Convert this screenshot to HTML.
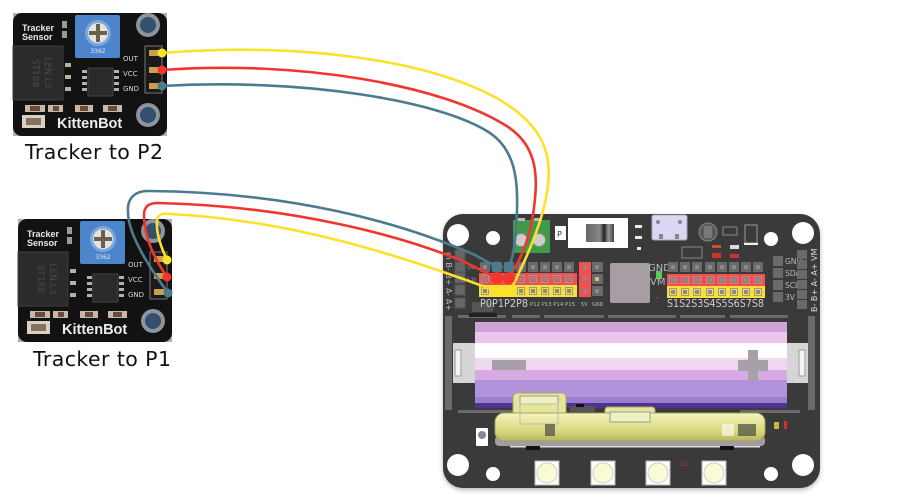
<!DOCTYPE html>
<html><head><meta charset="utf-8"><style>
html,body{margin:0;padding:0;background:#fff;}
svg{display:block;}
</style></head><body>
<svg width="915" height="502" viewBox="0 0 915 502" xmlns="http://www.w3.org/2000/svg" font-family="'DejaVu Sans','Liberation Sans',sans-serif">
<defs>
<filter id="sh" x="-10%" y="-10%" width="120%" height="120%"><feGaussianBlur stdDeviation="2.5"/></filter>
<linearGradient id="mb" x1="0" y1="0" x2="0" y2="1">
<stop offset="0" stop-color="#f4f4c0"/><stop offset="0.35" stop-color="#e6e69a"/><stop offset="0.7" stop-color="#d4d47a"/><stop offset="1" stop-color="#b4b460"/></linearGradient>
<linearGradient id="sw" x1="0" y1="0" x2="1" y2="0">
<stop offset="0" stop-color="#666"/><stop offset="0.5" stop-color="#888"/><stop offset="0.65" stop-color="#222"/><stop offset="0.8" stop-color="#999"/><stop offset="1" stop-color="#444"/></linearGradient>
</defs>

<!-- ===== Top sensor ===== -->
<g transform="translate(13,13)">
<rect x="0" y="0" width="154" height="123" fill="#a9b2bb"/>
<rect x="0" y="0" width="154" height="123" rx="9" fill="#121212"/>
<rect x="0" y="33" width="50" height="54" fill="#2b2b2b" stroke="#3d3d3d"/>
<text transform="translate(20,60) rotate(90)" font-size="9" fill="#4a4a4a" text-anchor="middle">ST188</text>
<text transform="translate(32,60) rotate(90)" font-size="9" fill="#4a4a4a" text-anchor="middle">LEN.L3</text>
<text x="9" y="18" font-family="'Liberation Sans',sans-serif" font-weight="bold" font-size="9" fill="#e8e8e8">Tracker</text>
<text x="9" y="27" font-family="'Liberation Sans',sans-serif" font-weight="bold" font-size="9" fill="#e8e8e8">Sensor</text>
<rect x="49" y="8" width="5" height="7" fill="#9a9a9a"/><rect x="49" y="18" width="5" height="7" fill="#9a9a9a"/>
<rect x="62" y="2" width="45" height="43" rx="2" fill="#4d85cc"/>
<circle cx="85" cy="20" r="13" fill="#7aa8e0"/>
<circle cx="85" cy="20" r="10" fill="#e8e4dc"/>
<rect x="83" y="11" width="4" height="18" fill="#6a6050"/><rect x="76" y="18" width="18" height="4" fill="#6a6050"/>
<text x="85" y="40" font-size="6" fill="#e0e8f8" text-anchor="middle">3362</text>
<rect x="75" y="55" width="25" height="28" fill="#2a2a2a" stroke="#444"/>
<g fill="#b8b0a0"><rect x="69" y="57" width="5" height="3"/><rect x="69" y="63" width="5" height="3"/><rect x="69" y="69" width="5" height="3"/><rect x="69" y="75" width="5" height="3"/>
<rect x="101" y="57" width="5" height="3"/><rect x="101" y="63" width="5" height="3"/><rect x="101" y="69" width="5" height="3"/><rect x="101" y="75" width="5" height="3"/>
<rect x="52" y="50" width="6" height="4"/><rect x="52" y="62" width="6" height="4"/><rect x="52" y="74" width="6" height="4"/></g>
<text x="110" y="48" font-size="7" fill="#d8d8d8">OUT</text>
<text x="110" y="63" font-size="7" fill="#d8d8d8">VCC</text>
<text x="110" y="78" font-size="7" fill="#d8d8d8">GND</text>
<rect x="132" y="33" width="17" height="47" fill="#1a1a1a" stroke="#777" stroke-width="1"/>
<rect x="136" y="37" width="10" height="6" fill="#c8a050"/><rect x="136" y="54" width="10" height="6" fill="#c8a050"/><rect x="136" y="70" width="10" height="6" fill="#c8a050"/>
<circle cx="135" cy="12" r="12" fill="#8d949c"/><circle cx="135" cy="12" r="8" fill="#34506e"/>
<circle cx="135" cy="102" r="12" fill="#8d949c"/><circle cx="135" cy="102" r="8" fill="#34506e"/>
<g fill="#c8b8a8"><rect x="12" y="92" width="20" height="7"/><rect x="35" y="92" width="15" height="7"/><rect x="62" y="92" width="18" height="7"/><rect x="90" y="92" width="19" height="7"/></g>
<g fill="#6a4a3a"><rect x="17" y="93" width="10" height="5"/><rect x="40" y="93" width="6" height="5"/><rect x="67" y="93" width="8" height="5"/><rect x="95" y="93" width="9" height="5"/></g>
<rect x="9" y="102" width="23" height="13" fill="#d8d0c0"/><rect x="13" y="105" width="15" height="7" fill="#8a7060"/>
<text x="44" y="115" font-family="'Liberation Sans',sans-serif" font-weight="bold" font-size="14.5" fill="#eeeeee">KittenBot</text>
</g>
<text x="25" y="159" font-size="20.5" fill="#111" textLength="138">Tracker to P2</text>

<!-- ===== Lower sensor ===== -->
<g transform="translate(18,219)">
<rect x="0" y="0" width="154" height="123" fill="#a9b2bb"/>
<rect x="0" y="0" width="154" height="123" rx="9" fill="#121212"/>
<rect x="0" y="33" width="50" height="54" fill="#2b2b2b" stroke="#3d3d3d"/>
<text transform="translate(20,60) rotate(90)" font-size="9" fill="#4a4a4a" text-anchor="middle">ST188</text>
<text transform="translate(32,60) rotate(90)" font-size="9" fill="#4a4a4a" text-anchor="middle">LEN.L3</text>
<text x="9" y="18" font-family="'Liberation Sans',sans-serif" font-weight="bold" font-size="9" fill="#e8e8e8">Tracker</text>
<text x="9" y="27" font-family="'Liberation Sans',sans-serif" font-weight="bold" font-size="9" fill="#e8e8e8">Sensor</text>
<rect x="49" y="8" width="5" height="7" fill="#9a9a9a"/><rect x="49" y="18" width="5" height="7" fill="#9a9a9a"/>
<rect x="62" y="2" width="45" height="43" rx="2" fill="#4d85cc"/>
<circle cx="85" cy="20" r="13" fill="#7aa8e0"/>
<circle cx="85" cy="20" r="10" fill="#e8e4dc"/>
<rect x="83" y="11" width="4" height="18" fill="#6a6050"/><rect x="76" y="18" width="18" height="4" fill="#6a6050"/>
<text x="85" y="40" font-size="6" fill="#e0e8f8" text-anchor="middle">3362</text>
<rect x="75" y="55" width="25" height="28" fill="#2a2a2a" stroke="#444"/>
<g fill="#b8b0a0"><rect x="69" y="57" width="5" height="3"/><rect x="69" y="63" width="5" height="3"/><rect x="69" y="69" width="5" height="3"/><rect x="69" y="75" width="5" height="3"/>
<rect x="101" y="57" width="5" height="3"/><rect x="101" y="63" width="5" height="3"/><rect x="101" y="69" width="5" height="3"/><rect x="101" y="75" width="5" height="3"/>
<rect x="52" y="50" width="6" height="4"/><rect x="52" y="62" width="6" height="4"/><rect x="52" y="74" width="6" height="4"/></g>
<text x="110" y="48" font-size="7" fill="#d8d8d8">OUT</text>
<text x="110" y="63" font-size="7" fill="#d8d8d8">VCC</text>
<text x="110" y="78" font-size="7" fill="#d8d8d8">GND</text>
<rect x="132" y="33" width="17" height="47" fill="#1a1a1a" stroke="#777" stroke-width="1"/>
<rect x="136" y="37" width="10" height="6" fill="#c8a050"/><rect x="136" y="54" width="10" height="6" fill="#c8a050"/><rect x="136" y="70" width="10" height="6" fill="#c8a050"/>
<circle cx="135" cy="12" r="12" fill="#8d949c"/><circle cx="135" cy="12" r="8" fill="#34506e"/>
<circle cx="135" cy="102" r="12" fill="#8d949c"/><circle cx="135" cy="102" r="8" fill="#34506e"/>
<g fill="#c8b8a8"><rect x="12" y="92" width="20" height="7"/><rect x="35" y="92" width="15" height="7"/><rect x="62" y="92" width="18" height="7"/><rect x="90" y="92" width="19" height="7"/></g>
<g fill="#6a4a3a"><rect x="17" y="93" width="10" height="5"/><rect x="40" y="93" width="6" height="5"/><rect x="67" y="93" width="8" height="5"/><rect x="95" y="93" width="9" height="5"/></g>
<rect x="9" y="102" width="23" height="13" fill="#d8d0c0"/><rect x="13" y="105" width="15" height="7" fill="#8a7060"/>
<text x="44" y="115" font-family="'Liberation Sans',sans-serif" font-weight="bold" font-size="14.5" fill="#eeeeee">KittenBot</text>
</g>
<text x="33" y="366" font-size="20.5" fill="#111" textLength="138">Tracker to P1</text>

<!-- ===== Board ===== -->
<rect x="443" y="216" width="377" height="274" rx="20" fill="#999" filter="url(#sh)" opacity="0.7"/>
<rect x="443" y="214" width="377" height="274" rx="20" fill="#3a3a3a"/>

<!-- top-left holes -->
<circle cx="458" cy="235" r="11" fill="#fff"/>
<circle cx="493" cy="238" r="7" fill="#fff"/>
<!-- terminal block -->
<rect x="513" y="220" width="37" height="33" fill="#3f9a4a"/>
<rect x="517" y="218" width="8" height="3" fill="#bbb"/><rect x="534" y="218" width="8" height="3" fill="#bbb"/>
<circle cx="521" cy="240" r="6.5" fill="#ccc" stroke="#888"/><circle cx="539" cy="240" r="6.5" fill="#ccc" stroke="#888"/>
<rect x="555" y="226" width="11" height="14" fill="#fff"/><text x="557" y="237" font-size="8" fill="#333">P</text>
<!-- switch -->
<rect x="568" y="218" width="60" height="30" fill="#fff"/>
<rect x="586" y="224" width="28" height="18" fill="url(#sw)"/>
<rect x="635" y="225" width="7" height="3" fill="#eee"/><rect x="635" y="236" width="7" height="3" fill="#eee"/><rect x="637" y="247" width="4" height="3" fill="#eee"/>
<!-- usb -->
<rect x="652" y="215" width="35" height="25" rx="2" fill="#dcd6f4" stroke="#aaa"/>
<circle cx="658" cy="222" r="2" fill="#888"/><circle cx="680" cy="222" r="2" fill="#888"/>
<rect x="659" y="234" width="4" height="5" fill="#888"/><rect x="675" y="234" width="4" height="5" fill="#888"/>
<!-- misc top right comps -->
<circle cx="708" cy="232" r="9" fill="#5a5a5a" stroke="#888"/>
<rect x="704" y="226" width="8" height="12" fill="#777"/>
<rect x="723" y="227" width="14" height="8" fill="none" stroke="#888"/>
<rect x="745" y="225" width="12" height="18" fill="none" stroke="#999"/><rect x="744" y="243" width="14" height="2" fill="#eee"/>
<rect x="682" y="247" width="20" height="11" fill="none" stroke="#888"/>
<rect x="712" y="245" width="9" height="3" fill="#d05030"/><rect x="730" y="245" width="9" height="4" fill="#ddd"/>
<rect x="712" y="253" width="9" height="5" fill="#d03030"/><rect x="730" y="254" width="9" height="4" fill="#d03030"/>
<circle cx="771" cy="239" r="7" fill="#fff"/>
<circle cx="803" cy="233" r="11" fill="#fff"/>

<!-- left vertical pins -->
<g fill="#666" stroke="#555"><rect x="455" y="250" width="10" height="10"/><rect x="455" y="262" width="10" height="10"/><rect x="455" y="273" width="10" height="10"/><rect x="455" y="285" width="10" height="10"/><rect x="455" y="298" width="10" height="10"/></g>
<text transform="translate(446,252) rotate(90)" font-size="8" fill="#bbb">m B- B+ A- A+</text>
<text x="467" y="269" font-size="4" fill="#999">GND</text>
<text x="467" y="281" font-size="4" fill="#999">3.3V</text>
<rect x="472" y="302" width="21" height="10" fill="#555"/>

<!-- left header -->
<rect x="479" y="273" width="98" height="12" fill="#f25050"/>
<rect x="479" y="285" width="98" height="12" fill="#f8e038"/>
<g id="lh">
<rect x="480" y="262" width="10" height="10" fill="#6a6a6a"/><rect x="492" y="262" width="10" height="10" fill="#6a6a6a"/><rect x="504" y="262" width="10" height="10" fill="#6a6a6a"/><rect x="516" y="262" width="10" height="10" fill="#6a6a6a"/><rect x="528" y="262" width="10" height="10" fill="#6a6a6a"/><rect x="540" y="262" width="10" height="10" fill="#6a6a6a"/><rect x="552" y="262" width="10" height="10" fill="#6a6a6a"/><rect x="564" y="262" width="10" height="10" fill="#6a6a6a"/>
</g>
<g fill="#8a8a8a">
<rect x="483" y="265" width="4" height="4"/><rect x="495" y="265" width="4" height="4"/><rect x="507" y="265" width="4" height="4"/><rect x="519" y="265" width="4" height="4"/><rect x="531" y="265" width="4" height="4"/><rect x="543" y="265" width="4" height="4"/><rect x="555" y="265" width="4" height="4"/><rect x="567" y="265" width="4" height="4"/>
<rect x="483" y="277" width="4" height="4"/><rect x="495" y="277" width="4" height="4"/><rect x="507" y="277" width="4" height="4"/><rect x="519" y="277" width="4" height="4"/><rect x="531" y="277" width="4" height="4"/><rect x="543" y="277" width="4" height="4"/><rect x="555" y="277" width="4" height="4"/><rect x="567" y="277" width="4" height="4"/>
<rect x="483" y="289" width="4" height="4"/><rect x="519" y="289" width="4" height="4"/><rect x="531" y="289" width="4" height="4"/><rect x="543" y="289" width="4" height="4"/><rect x="555" y="289" width="4" height="4"/><rect x="567" y="289" width="4" height="4"/>
</g>
<g fill="none" stroke="#999" stroke-width="1">
<rect x="481.5" y="275.5" width="7" height="7"/><rect x="517.5" y="275.5" width="7" height="7"/><rect x="529.5" y="275.5" width="7" height="7"/><rect x="541.5" y="275.5" width="7" height="7"/><rect x="553.5" y="275.5" width="7" height="7"/><rect x="565.5" y="275.5" width="7" height="7"/>
<rect x="481.5" y="287.5" width="7" height="7"/><rect x="517.5" y="287.5" width="7" height="7"/><rect x="529.5" y="287.5" width="7" height="7"/><rect x="541.5" y="287.5" width="7" height="7"/><rect x="553.5" y="287.5" width="7" height="7"/><rect x="565.5" y="287.5" width="7" height="7"/>
</g>
<!-- 5V & GND cols -->
<rect x="579" y="262" width="12" height="35" fill="#f25050"/>
<g fill="#6a6a6a"><rect x="592" y="262" width="11" height="10"/><rect x="592" y="274" width="11" height="10"/><rect x="592" y="286" width="11" height="10"/></g>
<g fill="#8a8a8a"><rect x="583" y="265" width="4" height="4"/><rect x="583" y="277" width="4" height="4"/><rect x="583" y="289" width="4" height="4"/><rect x="595" y="265" width="4" height="4"/><rect x="595" y="289" width="4" height="4"/></g>
<rect x="595" y="277" width="4" height="4" fill="#c8c080"/>
<text x="480" y="307" font-size="10.5" fill="#cfcfcf" textLength="48" lengthAdjust="spacingAndGlyphs">P0P1P2P8</text>
<text x="530" y="306" font-size="5" fill="#bbb" textLength="45" lengthAdjust="spacingAndGlyphs">P12 P13 P14 P15</text>
<text x="581" y="306" font-size="5" fill="#bbb">5V</text>
<text x="592" y="306" font-size="5" fill="#bbb">GND</text>
<!-- chip square -->
<rect x="610" y="263" width="40" height="40" rx="2" fill="#a69ea4"/>
<text x="648" y="271" font-size="10" fill="#b8b8b8">GND</text>
<rect x="656" y="271" width="6" height="8" fill="#5ac85a"/>
<text x="650" y="285" font-size="10" fill="#b8b8b8">VM</text>
<text x="656" y="300" font-size="8" fill="#888">-</text>

<!-- right header -->
<rect x="667" y="274" width="98" height="12" fill="#f25050"/>
<rect x="667" y="286" width="98" height="12" fill="#f8e038"/>
<g fill="#6a6a6a">
<rect x="668" y="262" width="10" height="10"/><rect x="680" y="262" width="10" height="10"/><rect x="692" y="262" width="10" height="10"/><rect x="705" y="262" width="10" height="10"/><rect x="717" y="262" width="10" height="10"/><rect x="729" y="262" width="10" height="10"/><rect x="741" y="262" width="10" height="10"/><rect x="753" y="262" width="10" height="10"/>
</g>
<g fill="#8a8a8a">
<rect x="671" y="265" width="4" height="4"/><rect x="683" y="265" width="4" height="4"/><rect x="695" y="265" width="4" height="4"/><rect x="708" y="265" width="4" height="4"/><rect x="720" y="265" width="4" height="4"/><rect x="732" y="265" width="4" height="4"/><rect x="744" y="265" width="4" height="4"/><rect x="756" y="265" width="4" height="4"/>
<rect x="671" y="278" width="4" height="4"/><rect x="683" y="278" width="4" height="4"/><rect x="695" y="278" width="4" height="4"/><rect x="708" y="278" width="4" height="4"/><rect x="720" y="278" width="4" height="4"/><rect x="732" y="278" width="4" height="4"/><rect x="744" y="278" width="4" height="4"/><rect x="756" y="278" width="4" height="4"/>
<rect x="671" y="290" width="4" height="4"/><rect x="683" y="290" width="4" height="4"/><rect x="695" y="290" width="4" height="4"/><rect x="708" y="290" width="4" height="4"/><rect x="720" y="290" width="4" height="4"/><rect x="732" y="290" width="4" height="4"/><rect x="744" y="290" width="4" height="4"/><rect x="756" y="290" width="4" height="4"/>
</g>
<g fill="none" stroke="#999">
<rect x="669.5" y="276.5" width="7" height="7"/><rect x="681.5" y="276.5" width="7" height="7"/><rect x="693.5" y="276.5" width="7" height="7"/><rect x="706.5" y="276.5" width="7" height="7"/><rect x="718.5" y="276.5" width="7" height="7"/><rect x="730.5" y="276.5" width="7" height="7"/><rect x="742.5" y="276.5" width="7" height="7"/><rect x="754.5" y="276.5" width="7" height="7"/>
<rect x="669.5" y="288.5" width="7" height="7"/><rect x="681.5" y="288.5" width="7" height="7"/><rect x="693.5" y="288.5" width="7" height="7"/><rect x="706.5" y="288.5" width="7" height="7"/><rect x="718.5" y="288.5" width="7" height="7"/><rect x="730.5" y="288.5" width="7" height="7"/><rect x="742.5" y="288.5" width="7" height="7"/><rect x="754.5" y="288.5" width="7" height="7"/>
</g>
<text x="667" y="307" font-size="10.5" fill="#cfcfcf" textLength="97" lengthAdjust="spacingAndGlyphs">S1S2S3S4S5S6S7S8</text>

<!-- right side pins -->
<g fill="#6a6a6a"><rect x="773" y="256" width="10" height="10"/><rect x="773" y="268" width="10" height="10"/><rect x="773" y="280" width="10" height="10"/><rect x="773" y="292" width="10" height="10"/></g>
<text x="785" y="264" font-size="7.5" fill="#bbb">GND</text>
<text x="785" y="276" font-size="7.5" fill="#bbb">SDA</text>
<text x="785" y="288" font-size="7.5" fill="#bbb">SCL</text>
<text x="785" y="300" font-size="7.5" fill="#bbb">3V</text>
<g fill="#6a6a6a"><rect x="797" y="250" width="10" height="9"/><rect x="797" y="260" width="10" height="9"/><rect x="797" y="270" width="10" height="9"/><rect x="797" y="280" width="10" height="9"/><rect x="797" y="290" width="10" height="9"/><rect x="797" y="300" width="10" height="9"/></g>
<text transform="translate(817,312) rotate(-90)" font-size="8" fill="#ddd">B- B+ A- A+ VM</text>

<!-- battery holder rails -->
<g fill="#6a6a6a"><rect x="458" y="315" width="48" height="3"/><rect x="512" y="315" width="28" height="3"/><rect x="544" y="315" width="60" height="3"/><rect x="608" y="315" width="68" height="3"/><rect x="680" y="315" width="45" height="3"/><rect x="730" y="315" width="58" height="3"/>
<rect x="458" y="410" width="60" height="3"/><rect x="740" y="410" width="60" height="3"/>
<rect x="445" y="316" width="7" height="94"/><rect x="808" y="316" width="7" height="94"/></g>
<rect x="469" y="313" width="28" height="4" fill="#222"/>
<rect x="453" y="343" width="22" height="40" fill="#d6d6d6"/><rect x="455" y="350" width="6" height="26" fill="#f4f4f4" stroke="#999"/>
<rect x="787" y="343" width="21" height="40" fill="#d6d6d6"/><rect x="799" y="350" width="6" height="26" fill="#f4f4f4" stroke="#999"/>
<!-- battery -->
<rect x="475" y="322" width="312" height="10" fill="#cfa2d9"/>
<rect x="475" y="332" width="312" height="11" fill="#eac6ef"/>
<rect x="475" y="343" width="312" height="15" fill="#ffffff"/>
<rect x="475" y="358" width="312" height="12" fill="#f0d8f2"/>
<rect x="475" y="370" width="312" height="10" fill="#d8aae2"/>
<rect x="475" y="380" width="312" height="17" fill="#b292da"/>
<rect x="475" y="397" width="312" height="6" fill="#9c7fcc"/>
<rect x="475" y="403" width="312" height="5" fill="#4e3392"/>
<rect x="492" y="360" width="34" height="10" fill="#a8a0a8"/>
<rect x="748" y="350" width="10" height="31" fill="#a8a0a8"/><rect x="738" y="360" width="30" height="11" fill="#a8a0a8"/>

<!-- micro:bit -->
<rect x="495" y="436" width="270" height="10" rx="4" fill="#a49ca4"/>
<rect x="570" y="406" width="25" height="6" fill="#555"/>
<rect x="576" y="404" width="8" height="3" fill="#111"/>
<rect x="513" y="393" width="53" height="24" rx="4" fill="#e6e69a" stroke="#a8a860"/>
<rect x="520" y="396" width="38" height="8" fill="#f0f0c0" stroke="#999"/>
<rect x="605" y="407" width="50" height="9" rx="3" fill="#e6e69a" stroke="#a8a860"/>
<rect x="495" y="413" width="270" height="28" rx="9" fill="url(#mb)" stroke="#a0a060"/>
<rect x="520" y="404" width="38" height="20" fill="none" stroke="#bbb"/>
<rect x="610" y="412" width="40" height="10" fill="#f0f0c0" stroke="#999"/>
<rect x="545" y="424" width="10" height="12" fill="#333" opacity="0.6"/>
<rect x="738" y="424" width="18" height="12" fill="#333" opacity="0.6"/>
<rect x="722" y="424" width="12" height="12" fill="#fff" opacity="0.6"/>
<g fill="#ddd"><rect x="510" y="446" width="250" height="1.5"/></g>
<rect x="526" y="446" width="14" height="4" fill="#111"/><rect x="720" y="446" width="14" height="4" fill="#111"/>
<rect x="774" y="422" width="5" height="7" fill="#c8b840"/><rect x="784" y="421" width="3" height="8" fill="#d03030"/>
<!-- small left button -->
<rect x="476" y="428" width="12" height="18" rx="1" fill="#fff"/><circle cx="482" cy="435" r="4" fill="#888"/>
<!-- bottom holes -->
<circle cx="458" cy="465" r="11" fill="#fff"/>
<circle cx="493" cy="474" r="7" fill="#fff"/>
<circle cx="771" cy="474" r="7" fill="#fff"/>
<circle cx="803" cy="465" r="11" fill="#fff"/>
<!-- buttons -->
<g fill="#fff" stroke="#bbb"><rect x="535" y="461" width="24" height="24"/><rect x="591" y="461" width="24" height="24"/><rect x="646" y="461" width="24" height="24"/><rect x="702" y="461" width="24" height="24"/></g>
<g fill="#fafad4" stroke="#ccc"><circle cx="547" cy="473" r="10"/><circle cx="603" cy="473" r="10"/><circle cx="658" cy="473" r="10"/><circle cx="714" cy="473" r="10"/></g>
<text x="680" y="466" font-size="6" fill="#d03030">C1</text>

<!-- ===== Wires ===== -->
<g fill="none" stroke-width="2.6" stroke-linecap="round">
<!-- P2 sensor -->
<path d="M162,53 C300,42 430,60 500,100 C540,124 552,150 548,185 C545,215 530,252 510,291" stroke="#fbe22a"/>
<path d="M162,70 C300,60 440,85 505,125 C540,146 538,180 533,215 C528,245 518,265 508,278" stroke="#f2352e"/>
<path d="M162,86 C300,78 440,100 490,133 C515,150 518,180 517,210 C516,240 513,258 509,267" stroke="#4c7b90"/>
<!-- P1 sensor -->
<path d="M168,293 C150,268 128,235 128,212 C127,198 135,191 148,191 C290,192 400,222 475,255 L497,267" stroke="#4c7b90"/>
<path d="M167,277 C152,255 144,235 144,215 C144,206 149,203 158,203 C290,206 400,235 465,262 L497,278" stroke="#f2352e"/>
<path d="M167,260 C160,245 156,232 157,221 C158,214 162,213 170,214 C290,220 400,255 496,291" stroke="#fbe22a"/>
</g>
<!-- board-end dots -->
<circle cx="497" cy="267" r="5.5" fill="#4c7b90"/><circle cx="509" cy="267" r="5.5" fill="#4c7b90"/>
<circle cx="497" cy="278" r="6" fill="#f2352e"/><circle cx="509" cy="278" r="6" fill="#f2352e"/>
<rect x="491" y="285" width="11" height="12" fill="#fbe22a"/><rect x="503" y="285" width="12" height="12" fill="#fbe22a"/>
<!-- sensor-end dots -->
<circle cx="162" cy="53" r="4.5" fill="#fbe22a"/><circle cx="162" cy="70" r="4.5" fill="#f2352e"/><circle cx="162" cy="86" r="4.5" fill="#4c7b90"/>
<circle cx="167" cy="260" r="4.5" fill="#fbe22a"/><circle cx="167" cy="277" r="4.5" fill="#f2352e"/><circle cx="168" cy="293" r="4.5" fill="#4c7b90"/>
</svg>
</body></html>
